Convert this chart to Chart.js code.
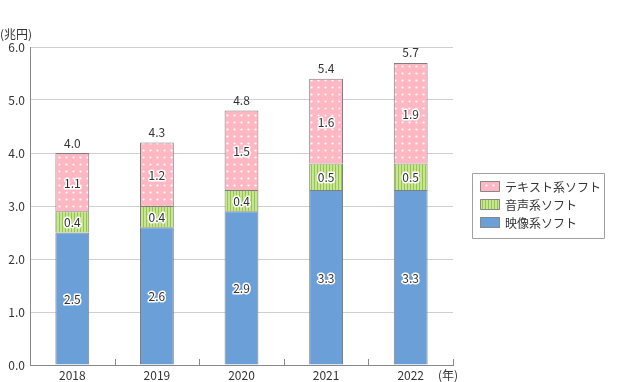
<!DOCTYPE html>
<html><head><meta charset="utf-8">
<script src="https://cdn.jsdelivr.net/npm/chart.js@4/dist/chart.umd.min.js"></script>
<style>html,body{margin:0;padding:0;background:#fff;}canvas{display:block;}</style>
</head><body>
<canvas id="c" width="629" height="382"></canvas>
<script>
const categories = ['2018', '2019', '2020', '2021', '2022'];
const videoSoft = [2.5, 2.6, 2.9, 3.3, 3.3];
const audioSoft = [0.4, 0.4, 0.4, 0.5, 0.5];
const textSoft = [1.1, 1.2, 1.5, 1.6, 1.9];
const totalLabels = ['4.0', '4.3', '4.8', '5.4', '5.7'];
const seriesNames = ['映像系ソフト', '音声系ソフト', 'テキスト系ソフト'];
const yUnit = '(兆円)';
const xUnit = '(年)';

const FONT = '"Noto Sans CJK JP", "Noto Sans", sans-serif';
const canvas = document.getElementById('c');
const ctx = canvas.getContext('2d');

function dotPattern() {
  const c = document.createElement('canvas'); c.width = 7; c.height = 7;
  const g = c.getContext('2d');
  g.fillStyle = '#FFB8C3'; g.fillRect(0, 0, 7, 7);
  g.fillStyle = '#ffffff';
  g.beginPath(); g.arc(3.5, 3.5, 1.1, 0, Math.PI * 2); g.fill();
  return ctx.createPattern(c, 'repeat');
}
function stripePattern() {
  const c = document.createElement('canvas'); c.width = 3; c.height = 4;
  const g = c.getContext('2d');
  g.fillStyle = '#C8E594'; g.fillRect(0, 0, 3, 4);
  g.fillStyle = '#94C64E'; g.fillRect(2, 0, 1, 4);
  return ctx.createPattern(c, 'repeat');
}
const fills = ['#6A9FD8', stripePattern(), dotPattern()];
const seriesData = [videoSoft, audioSoft, textSoft];

const labelPlugin = {
  id: 'labels',
  afterDatasetsDraw(chart) {
    const c = chart.ctx;
    c.save();
    c.font = '12px ' + FONT;
    c.textAlign = 'center'; c.textBaseline = 'middle';
    chart.data.datasets.forEach((ds, di) => {
      const meta = chart.getDatasetMeta(di);
      meta.data.forEach((el, i) => {
        const y = (el.y + el.base) / 2;
        const t = ds.data[i].toFixed(1);
        c.lineWidth = 3; c.strokeStyle = '#ffffff'; c.lineJoin = 'round';
        c.strokeText(t, el.x, y + 1);
        c.fillStyle = '#333333';
        c.fillText(t, el.x, y + 1);
      });
    });
    const topMeta = chart.getDatasetMeta(chart.data.datasets.length - 1);
    topMeta.data.forEach((el, i) => {
      c.fillStyle = '#333333';
      c.fillText(totalLabels[i], el.x, el.y - 10);
    });
    // units
    c.textAlign = 'left';
    c.fillText(yUnit, 0, 34);
    c.fillText(xUnit, 438, 375);
    // inward tick marks on x axis
    const a = chart.chartArea;
    const n = categories.length;
    const w = (a.right - a.left) / n;
    c.strokeStyle = '#888888'; c.lineWidth = 1;
    for (let i = 1; i <= n; i++) {
      const x = Math.round(a.left + i * w) + 0.5;
      c.beginPath(); c.moveTo(x, a.bottom); c.lineTo(x, a.bottom - 6); c.stroke();
    }
    // legend
    c.strokeStyle = '#A0A0A0';
    c.strokeRect(472.5, 173.5, 132, 65);
    const order = [2, 1, 0];
    order.forEach((si, r) => {
      const cy = 186 + r * 18;
      c.fillStyle = fills[si];
      c.fillRect(480, cy - 5, 20, 11);
      c.strokeStyle = '#888888';
      c.strokeRect(480.5, cy - 4.5, 19, 10);
      c.fillStyle = '#333333';
      c.textBaseline = 'middle';
      c.fillText(seriesNames[si], 505, cy + 1);
    });
    c.restore();
  }
};

new Chart(ctx, {
  type: 'bar',
  data: {
    labels: categories,
    datasets: seriesData.map((d, i) => ({
      label: seriesNames[i],
      data: d,
      backgroundColor: fills[i],
      borderColor: '#7F7F7F',
      borderWidth: 1,
      barPercentage: 0.4,
      categoryPercentage: 1
    }))
  },
  options: {
    responsive: false,
    animation: false,
    devicePixelRatio: 1,
    layout: { padding: { top: 47, right: 176, left: 0, bottom: 0 } },
    plugins: { legend: { display: false }, tooltip: { enabled: false } },
    scales: {
      x: {
        stacked: true,
        grid: { display: false, drawTicks: false, tickLength: 0 },
        border: { display: true, color: '#888888' },
        ticks: { color: '#333333', font: { size: 12, family: FONT }, padding: 3 },
        afterFit(s) { s.height = 17; }
      },
      y: {
        stacked: true,
        min: 0, max: 6,
        ticks: { stepSize: 1, color: '#333333', font: { size: 12, family: FONT }, padding: 5,
                 callback: v => v.toFixed(1) },
        grid: { color: '#D0D0D0', drawTicks: false },
        border: { color: '#888888' },
        afterFit(s) { s.width = 30; }
      }
    }
  },
  plugins: [labelPlugin]
});
</script>
</body></html>
